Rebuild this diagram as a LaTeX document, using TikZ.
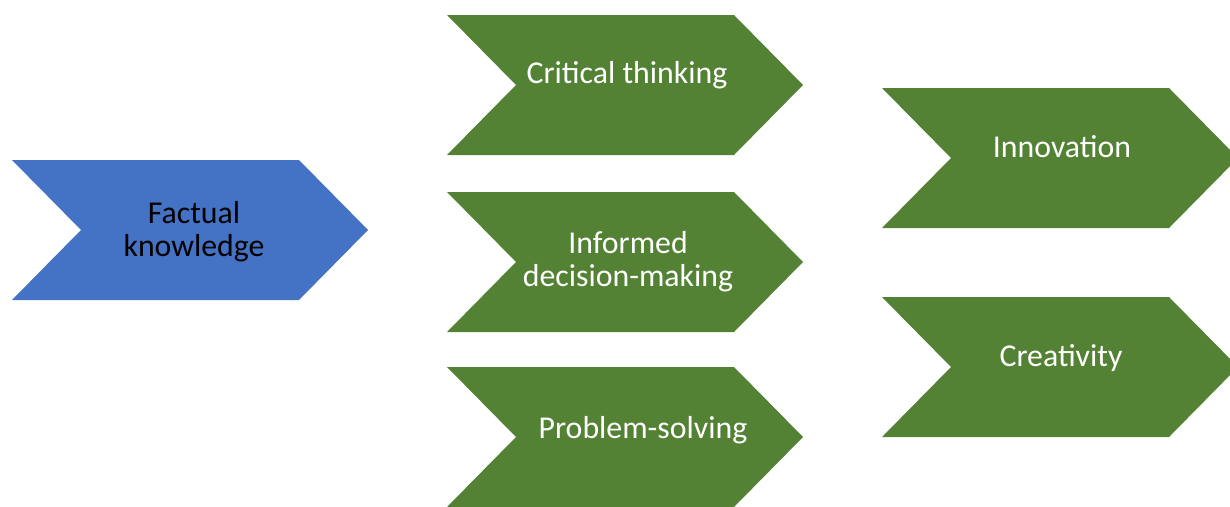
\documentclass[tikz,border=0pt]{standalone}
\usepackage{fontspec}
\setmainfont{Carlito}
\definecolor{chevblue}{HTML}{4472C4}
\definecolor{chevgreen}{HTML}{548235}
\tikzset{
  lbl/.style={font=\fontsize{31.8}{33}\selectfont, anchor=base, inner sep=0pt, align=center},
}
% chevron with top-left corner at (#1,#2), 356 wide, 140 high
\newcommand{\chevron}[3]{%
  \fill[#3] (#1,#2) -- ++(287,0) -- ++(69,70) -- ++(-69,70) -- ++(-287,0) -- ++(69,-70) -- cycle;}
\begin{document}
\begin{tikzpicture}[x=1pt,y=-1pt]
  \useasboundingbox (0,0) rectangle (1230,506);
  \begin{scope}
    \clip (0,0) rectangle (1230,506);
    \chevron{12}{160}{chevblue}
    \chevron{447}{15}{chevgreen}
    \chevron{447}{192}{chevgreen}
    \chevron{447}{367}{chevgreen}
    \chevron{882}{88}{chevgreen}
    \chevron{882}{297}{chevgreen}
  \end{scope}
  % base anchor of a two-line label sits on its last line
  \node[lbl, text=black] (fact) at (194,256) {Factual\\knowledge};
  \node[lbl, text=white] (crit) at (627,83) {Critical thinking};
  \node[lbl, text=white] (info) at (628,286) {Informed\\decision-making};
  \node[lbl, text=white] (prob) at (643,438) {Problem-solving};
  \node[lbl, text=white] (innov) at (1062,157) {Innovation};
  \node[lbl, text=white] (creat) at (1061,366) {Creativity};
\end{tikzpicture}
\end{document}
